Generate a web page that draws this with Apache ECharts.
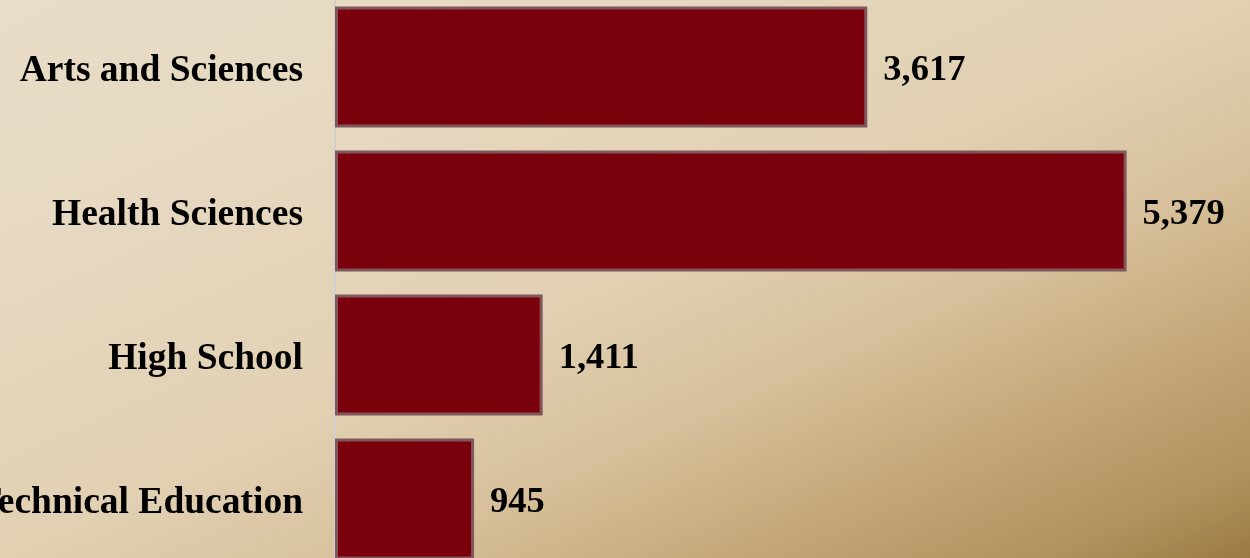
<!DOCTYPE html>
<html>
<head>
<meta charset="utf-8">
<script src="https://cdn.jsdelivr.net/npm/echarts@6/dist/echarts.min.js"></script>
<style>
html,body{margin:0;padding:0;width:1250px;height:558px;overflow:hidden;}
#chart{width:1250px;height:558px;}
</style>
</head>
<body>
<div id="chart"></div>
<script>
const categories = ["Arts and Sciences", "Health Sciences", "High School", "Technical Education"];
const enrollment = [3617, 5379, 1411, 945];

const FONT = "'Liberation Serif', 'Times New Roman', serif";
const W = 1250, H = 558;
// CSS-like "to bottom right" gradient direction in bbox coordinates
const len = Math.hypot(W, H);
const dx = H / len, dy = W / len;
const half = (W * H * 2 / len) / 2;
const cx = W / 2, cy = H / 2;
const g = {
  x: (cx - dx * half) / W, y: (cy - dy * half) / H,
  x2: (cx + dx * half) / W, y2: (cy + dy * half) / H
};

const labelStyle = {color: '#000', fontFamily: FONT, fontWeight: 'bold', fontSize: 37.5, padding: [8, 0, 0, 0]};

const chart = echarts.init(document.getElementById('chart'), null, {renderer: 'canvas'});
chart.setOption({
  animation: false,
  backgroundColor: {
    type: 'linear', x: g.x, y: g.y, x2: g.x2, y2: g.y2,
    colorStops: [
      {offset: 0, color: '#e9ddc8'},
      {offset: 0.25, color: '#e6d8c0'},
      {offset: 0.5, color: '#e1d0b2'},
      {offset: 0.65, color: '#d7c09b'},
      {offset: 0.8, color: '#c2a676'},
      {offset: 0.92, color: '#b0925f'},
      {offset: 1, color: '#9c7a41'}
    ]
  },
  grid: {left: 335, right: 32, top: -5, bottom: -13, containLabel: false, outerBoundsMode: 'none'},
  xAxis: {type: 'value', min: 0, max: 6000, show: false},
  yAxis: {
    type: 'category', data: categories, inverse: true,
    axisLine: {show: true, lineStyle: {color: '#d0d0d2', width: 2}},
    axisTick: {show: false},
    splitLine: {show: false},
    axisLabel: {
      margin: 32,
      formatter: v => '{c|' + v + '}',
      rich: {c: labelStyle}
    }
  },
  series: [{
    type: 'bar',
    data: enrollment,
    barWidth: 121,
    itemStyle: {color: '#7a000b', borderColor: '#80585c', borderWidth: 3},
    label: {
      show: true, position: 'right', distance: 16, offset: [0, 4],
      color: '#000', fontFamily: FONT, fontWeight: 'bold', fontSize: 36.5,
      formatter: p => p.value.toLocaleString('en-US')
    }
  }]
});
</script>
</body>
</html>
